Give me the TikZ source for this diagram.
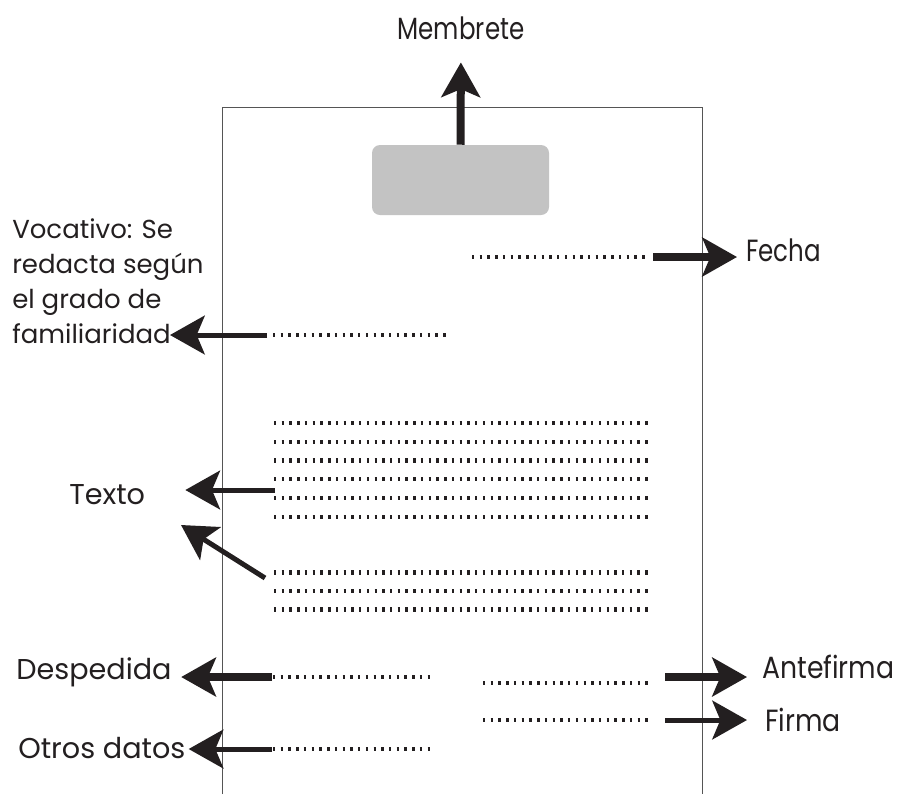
\documentclass[tikz,border=0pt]{standalone}
\usepackage{fontspec}
\setmainfont{Poppins}
\newfontfamily\narrowfont[FakeStretch=0.8]{Poppins}
\newfontfamily\halfnarrowfont[FakeStretch=0.87]{Poppins}
\usetikzlibrary{arrows.meta,positioning,calc}
\definecolor{ink}{HTML}{231F20}
\definecolor{membox}{HTML}{C3C3C3}
\definecolor{pageline}{HTML}{555555}

\begin{document}
\begin{tikzpicture}[x=0.75pt,y=-0.75pt,
  dots/.style={ink,line width=3.2pt,dash pattern=on 1.8pt off 4pt},
  fatarrow/.style={ink,line width=6pt,-{Stealth[length=26pt,width=29pt,inset=6pt]}},
  thinarrow/.style={ink,line width=3.75pt,-{Stealth[length=26pt,width=29pt,inset=6pt]}},
  tag/.style={ink,inner sep=0pt,font=\fontsize{21.5}{26.25}\selectfont},
  ntag/.style={ink,inner sep=0pt,font=\narrowfont\fontsize{23}{28}\selectfont}]
\useasboundingbox (0,0) rectangle (898,794);

% hoja
\draw[pageline,line width=0.75pt] (222,794) -- (222,107) -- (702,107) -- (702,794);

% membrete
\node[fill=membox,rounded corners=6pt,minimum width=132.75pt,minimum height=52.5pt,inner sep=0pt] (logo) at (460.5,180) {};
\node[ntag] (membrete) at (461,28) {Membrete};
\draw[fatarrow,shorten >=17pt] (logo.north) -- (membrete.south);

% fecha
\node[ntag,anchor=west] (fecha) at (746,250) {Fecha};
\coordinate (fechaS) at (653,257);
\draw[dots] (472,257) -- (648,257);
\draw[fatarrow,shorten >=6.75pt] (fechaS) -- (fechaS -| fecha.west);

% vocativo
\node[tag,font=\fontsize{19.5}{26.25}\selectfont,align=left,anchor=north west] (vocativo) at (12,218) {Vocativo: Se\\redacta según\\el grado de\\familiaridad};
\coordinate (vocS) at (267,335);
\coordinate (vocT) at (170,335);
\draw[dots] (273,335) -- (448,335);
\draw[thinarrow] (vocS) -- (vocT);

% texto
\foreach \y in {423,441.75,460.5,479.25,498,516.75,572.5,591,609.5}
  \draw[dots] (274,\y) -- (650,\y);
\node[tag,anchor=west] (texto) at (69,495) {Texto};
\coordinate (textoS) at (275,490);
\coordinate (textoS2) at (265,578);
\coordinate (textoT2) at (181,525);
\draw[thinarrow,shorten >=30pt] (textoS) -- (textoS -| texto.east);
\draw[thinarrow] (textoS2) -- (textoT2);

% despedida
\node[tag,anchor=west] (despedida) at (16,672) {Despedida};
\coordinate (despS) at (272,677);
\draw[dots] (273,677) -- (432,677);
\draw[fatarrow,shorten >=7pt] (despS) -- (despS -| despedida.east);

% otros datos
\node[tag,anchor=west] (otros) at (18,748) {Otros datos};
\coordinate (otrosS) at (272,749);
\draw[dots] (273,749) -- (432,749);
\draw[thinarrow,shorten >=2.25pt] (otrosS) -- (otrosS -| otros.east);

% antefirma y firma
\node[ntag,font=\halfnarrowfont\fontsize{23}{28}\selectfont,anchor=west] (antefirma) at (762,667) {Antefirma};
\coordinate (anteS) at (665,677);
\draw[dots] (483,683) -- (650,683);
\draw[fatarrow,shorten >=11.25pt] (anteS) -- (anteS -| antefirma.west);

\node[ntag,font=\halfnarrowfont\fontsize{23}{28}\selectfont,anchor=west] (firma) at (765,720) {Firma};
\coordinate (firmaS) at (665,720);
\draw[dots] (483,720) -- (650,720);
\draw[thinarrow,shorten >=13.5pt] (firmaS) -- (firmaS -| firma.west);
\end{tikzpicture}
\end{document}
